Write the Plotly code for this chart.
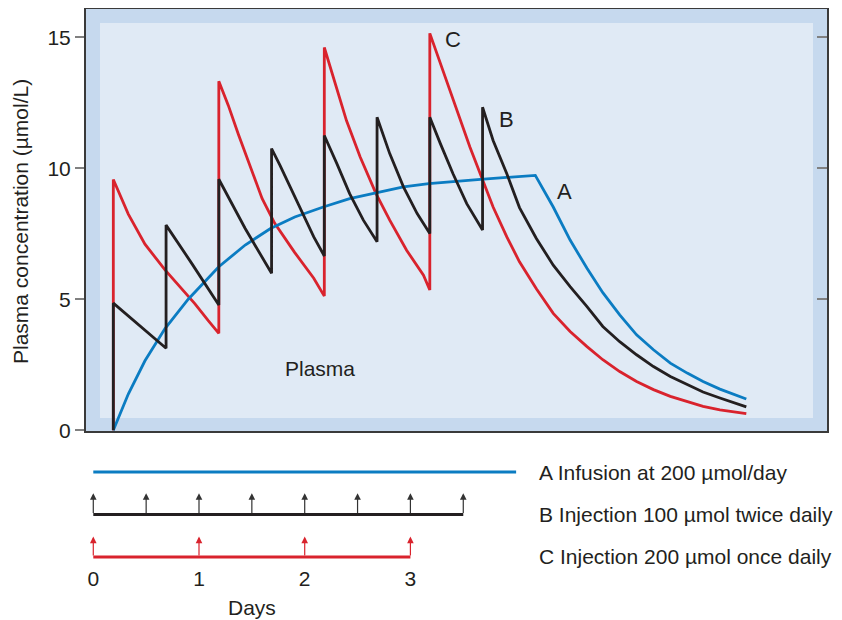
import plotly.graph_objects as go

# ---------------- data ----------------
# Curve A: continuous infusion (days, umol/L)
a_t = [0, 0.142, 0.30, 0.49, 0.71, 1.0, 1.25, 1.49, 1.72, 1.99, 2.24, 2.49, 2.75, 2.99, 3.48, 4.0,
       4.17, 4.33, 4.49, 4.64, 4.80, 4.96, 5.12, 5.28, 5.44, 5.59, 5.75, 6.0]
a_c = [0, 1.38, 2.65, 3.88, 5.0, 6.24, 7.07, 7.70, 8.14, 8.52, 8.84, 9.07, 9.29, 9.41, 9.58, 9.73,
       8.52, 7.26, 6.18, 5.25, 4.40, 3.64, 3.07, 2.56, 2.18, 1.86, 1.57, 1.19]

# Curve B: 100 umol twice daily
b_t = [0, 0, 0.5, 0.5, 0.743, 1.0, 1.0, 1.25, 1.5, 1.5, 1.58, 1.77, 1.90, 2.0, 2.0, 2.12, 2.24, 2.37,
       2.5, 2.5, 2.62, 2.75, 2.88, 3.0, 3.0, 3.10, 3.22, 3.35, 3.5, 3.5, 3.60, 3.73, 3.85, 4.01, 4.17,
       4.33, 4.49, 4.64, 4.80, 4.96, 5.12, 5.28, 5.44, 5.59, 5.75, 6.0]
b_c = [0, 4.85, 3.13, 7.83, 6.37, 4.78, 9.58, 7.70, 5.99, 10.75, 10.11, 8.52, 7.38, 6.65, 11.25, 10.17,
       9.03, 8.02, 7.19, 11.95, 10.56, 9.29, 8.27, 7.51, 11.95, 10.94, 9.79, 8.65, 7.64, 12.33, 11.06,
       9.79, 8.50, 7.32, 6.30, 5.48, 4.72, 3.96, 3.38, 2.88, 2.43, 2.05, 1.74, 1.46, 1.23, 0.89]

# Curve C: 200 umol once daily
c_t = [0, 0, 0.142, 0.30, 0.49, 0.648, 0.774, 0.90, 1.0, 1.0, 1.09, 1.185, 1.31, 1.41, 1.53, 1.72,
       1.90, 2.0, 2.0, 2.085, 2.21, 2.34, 2.49, 2.62, 2.78, 2.94, 3.0, 3.0, 3.10, 3.22, 3.38, 3.49,
       3.60, 3.73, 3.85, 4.01, 4.17, 4.33, 4.49, 4.64, 4.80, 4.96, 5.12, 5.28, 5.44, 5.59, 5.75, 6.0]
c_c = [0, 9.57, 8.25, 7.10, 6.12, 5.42, 4.82, 4.18, 3.70, 13.32, 12.40, 11.30, 9.95, 8.85, 7.90, 6.78,
       5.80, 5.12, 14.61, 13.45, 11.82, 10.43, 9.03, 8.02, 6.87, 5.92, 5.35, 15.15, 14.0, 12.58, 10.81,
       9.67, 8.52, 7.38, 6.43, 5.40, 4.46, 3.77, 3.19, 2.69, 2.24, 1.86, 1.55, 1.29, 1.08, 0.91, 0.78, 0.63]

# Dosing schedule (days)
infusion_span = [0, 4]
b_doses = [0, 0.5, 1, 1.5, 2, 2.5, 3, 3.5]
c_doses = [0, 1, 2, 3]
day_ticks = [0, 1, 2, 3]
y_ticks = [0, 5, 10, 15]

legend_texts = ["A Infusion at 200 \u00b5mol/day",
                "B Injection 100 \u00b5mol twice daily",
                "C Injection 200 \u00b5mol once daily"]

# ---------------- style ----------------
BLUE = "#0b7cc2"
RED = "#d9232d"
BLACK = "#231f20"
TXT = "#231f20"
FONT = "Liberation Sans, Arial, sans-serif"
BAND = "#c6d9ee"
INNER = "#e0eaf5"
FS = 21

# the page has an 8px body margin; positions below are given in window pixels
OFF = 8
W, H = 842, 620
px = lambda v: (v - OFF) / W          # window x -> paper x
py = lambda v: 1 - (v - OFF) / H      # window y -> paper y

fig = go.Figure()

fig.add_trace(go.Scatter(x=c_t, y=c_c, mode="lines", line=dict(color=RED, width=2.8),
                         hoverinfo="skip", showlegend=False))
fig.add_trace(go.Scatter(x=a_t, y=a_c, mode="lines", line=dict(color=BLUE, width=2.8),
                         hoverinfo="skip", showlegend=False))
fig.add_trace(go.Scatter(x=b_t, y=b_c, mode="lines", line=dict(color=BLACK, width=2.8),
                         hoverinfo="skip", showlegend=False))
# dummy trace for the right-side tick axis
fig.add_trace(go.Scatter(x=[0], y=[0], yaxis="y3", mode="markers", marker=dict(opacity=0),
                         hoverinfo="skip", showlegend=False))

# ---- schedule lines below the chart ----
LANE_A, LANE_B, LANE_C = 0, -1, -2
fig.add_trace(go.Scatter(x=infusion_span, y=[LANE_A, LANE_A], xaxis="x2", yaxis="y2", mode="lines",
                         line=dict(color=BLUE, width=3), hoverinfo="skip", showlegend=False))
fig.add_trace(go.Scatter(x=[b_doses[0], b_doses[-1]], y=[LANE_B, LANE_B], xaxis="x2", yaxis="y2",
                         mode="lines", line=dict(color=BLACK, width=3), hoverinfo="skip", showlegend=False))
fig.add_trace(go.Scatter(x=[c_doses[0], c_doses[-1]], y=[LANE_C, LANE_C], xaxis="x2", yaxis="y2",
                         mode="lines", line=dict(color=RED, width=3), hoverinfo="skip", showlegend=False))

annotations = []
for t in b_doses:
    annotations.append(dict(x=t, y=LANE_B + 0.5, ax=t, ay=LANE_B, xref="x2", yref="y2",
                            axref="x2", ayref="y2", showarrow=True, arrowhead=2, arrowsize=1.1,
                            arrowwidth=1.2, arrowcolor="#333333", text=""))
for t in c_doses:
    annotations.append(dict(x=t, y=LANE_C + 0.48, ax=t, ay=LANE_C, xref="x2", yref="y2",
                            axref="x2", ayref="y2", showarrow=True, arrowhead=2, arrowsize=1.1,
                            arrowwidth=1.2, arrowcolor=RED, text=""))

for txt, lane in zip(legend_texts, [LANE_A, LANE_B, LANE_C]):
    annotations.append(dict(x=px(537), y=lane, xref="paper", yref="y2", text=txt, showarrow=False,
                            xanchor="left", yanchor="middle", font=dict(size=FS, color=TXT, family=FONT)))

# curve labels
for lbl, x, y in [("C", 3.22, 14.9), ("B", 3.73, 11.88), ("A", 4.28, 9.10)]:
    annotations.append(dict(x=x, y=y, xref="x", yref="y", text=lbl, showarrow=False,
                            xanchor="center", yanchor="middle",
                            font=dict(size=22, color=TXT, family=FONT)))
annotations.append(dict(x=1.96, y=2.34, xref="x", yref="y", text="Plasma", showarrow=False,
                        xanchor="center", yanchor="middle",
                        font=dict(size=FS, color=TXT, family=FONT)))

# axis titles
annotations.append(dict(x=px(20), y=py(222), xref="paper", yref="paper",
                        text="Plasma concentration (\u00b5mol/L)", textangle=-90, showarrow=False,
                        xanchor="center", yanchor="middle",
                        font=dict(size=FS, color=TXT, family=FONT)))
annotations.append(dict(x=px(252), y=py(607), xref="paper", yref="paper", text="Days",
                        showarrow=False, xanchor="center", yanchor="middle",
                        font=dict(size=FS, color=TXT, family=FONT)))

shapes = [
    dict(type="rect", xref="x domain", yref="y domain", x0=0, x1=1, y0=0, y1=1,
         fillcolor=BAND, line=dict(width=0), layer="below"),
    dict(type="rect", xref="x domain", yref="y domain",
         x0=(100 - 86) / 741, x1=(813 - 86) / 741, y0=(431 - 418) / 422, y1=(431 - 23) / 422,
         fillcolor=INNER, line=dict(width=0), layer="below"),
]

x_dom = [px(86), px(827)]
fig.update_layout(
    width=W, height=H, margin=dict(l=0, r=0, t=0, b=0, autoexpand=False),
    paper_bgcolor="white", plot_bgcolor="white",
    font=dict(family=FONT, color=TXT),
    xaxis=dict(domain=x_dom, range=[-0.259, 6.765], anchor="y", showline=True, mirror=True,
               linecolor="#3a3a3a", linewidth=2, showgrid=False, zeroline=False,
               showticklabels=False, ticks=""),
    yaxis=dict(domain=[py(431), py(9)], range=[-0.03, 16.08], anchor="x", tickvals=y_ticks,
               ticks="outside", ticklen=9, tickwidth=2, tickcolor="#808080",
               showline=True, mirror=True, linecolor="#3a3a3a", linewidth=2,
               showgrid=False, zeroline=False, tickfont=dict(size=FS, color=TXT, family=FONT)),
    yaxis3=dict(overlaying="y", side="right", anchor="x", range=[-0.03, 16.08], tickvals=y_ticks,
                ticks="inside", ticklen=10, tickwidth=2, tickcolor="#808080",
                showticklabels=False, showline=False, showgrid=False, zeroline=False),
    xaxis2=dict(domain=x_dom, range=[-0.069, 6.941], anchor="y2", tickvals=day_ticks,
                ticks="", showline=False, showgrid=False, zeroline=False,
                tickfont=dict(size=FS, color=TXT, family=FONT)),
    yaxis2=dict(domain=[py(564), py(446)], range=[-2.165, 0.612], anchor="x2", visible=False),
    annotations=annotations, shapes=shapes,
)

fig.write_html("out.html")
